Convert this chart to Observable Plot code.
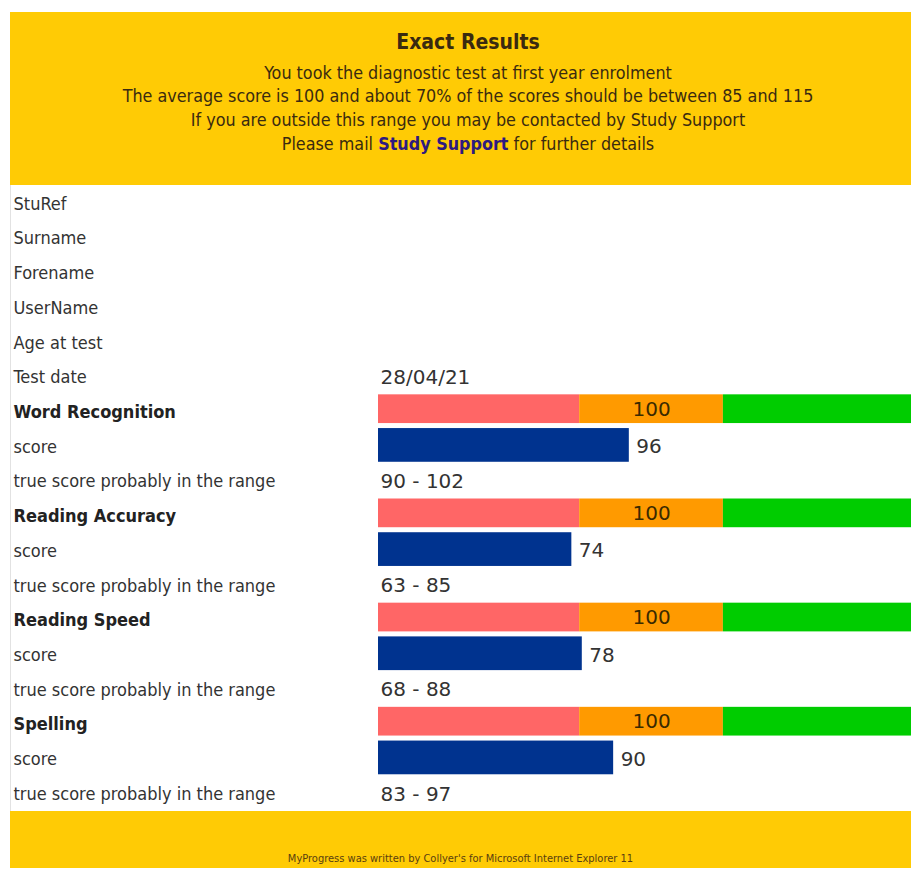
<!DOCTYPE html>
<html>
<head>
<meta charset="utf-8">
<script src="https://cdn.jsdelivr.net/npm/d3@7"></script>
<script src="https://cdn.jsdelivr.net/npm/@observablehq/plot@0.6"></script>
<style>
  html, body { margin: 0; padding: 0; background: #fff; }
  #page { position: relative; width: 911px; height: 873px; overflow: hidden; font-family: "DejaVu Sans Condensed", "DejaVu Sans", sans-serif; color: #333; }
  #header { position: absolute; left: 10px; top: 12px; width: 901px; height: 173px; background: #FFCB05; text-align: center; overflow: visible; }
  #header .t { position: absolute; left: 0; width: 916px; transform: translateY(-50%); font-size: 17.8px; color: #3a2a10; white-space: nowrap; }
  #header .title { font-size: 21px; font-weight: bold; }
  #header .link { color: #2e1a80; font-weight: bold; }
  #chart { position: absolute; left: 0; top: 185px; width: 911px; }
  #leftline { position: absolute; left: 10px; top: 185px; width: 1px; height: 626px; background: #e2e2e2; }
  #footer { position: absolute; left: 10px; top: 811px; width: 901px; height: 57px; background: #FFCB05; }
  #footer .f { position: absolute; left: 0; width: 100%; top: 47px; transform: translateY(-50%); text-align: center; font-size: 11px; color: #5a4010; }
</style>
</head>
<body>
<div id="page">
  <div id="header">
    <div class="t title" style="top:30px">Exact Results</div>
    <div class="t" style="top:60px">You took the diagnostic test at first year enrolment</div>
    <div class="t" style="top:83px">The average score is 100 and about 70% of the scores should be between 85 and 115</div>
    <div class="t" style="top:107px">If you are outside this range you may be contacted by Study Support</div>
    <div class="t" style="top:131px">Please mail <span class="link">Study Support</span> for further details</div>
  </div>
  <div id="leftline"></div>
  <div id="chart"></div>
  <div id="footer"><div class="f">MyProgress was written by Collyer's for Microsoft Internet Explorer 11</div></div>
</div>
<script>
// ---- data ----
const infoLabels = ["StuRef", "Surname", "Forename", "UserName", "Age at test", "Test date"];
const infoValues = ["", "", "", "", "", "28/04/21"];
const tests = ["Word Recognition", "Reading Accuracy", "Reading Speed", "Spelling"];
const scores = [96, 74, 78, 90];
const rangeLow = [90, 63, 68, 83];
const rangeHigh = [102, 85, 88, 97];
const averageScore = 100;
const bandNames = ["low", "average", "high"];
const bandStart = [0, 77, 132];
const bandEnd = [77, 132, 204];
const bandColors = ["#FF6666", "#FF9A00", "#00CC00"];
const scoreLabel = "score";
const rangeLabel = "true score probably in the range";

// ---- build rows ----
const rows = [];
infoLabels.forEach((l, i) => rows.push({key: "info" + i, label: l, bold: false, value: infoValues[i]}));
tests.forEach((t, i) => {
  rows.push({key: t + "|band", label: t, bold: true, value: ""});
  rows.push({key: t + "|score", label: scoreLabel, bold: false, value: ""});
  rows.push({key: t + "|range", label: rangeLabel, bold: false, value: rangeLow[i] + " - " + rangeHigh[i]});
});

const bands = [];
tests.forEach(t => bandNames.forEach((b, j) => bands.push({key: t + "|band", band: b, x1: bandStart[j], x2: bandEnd[j], color: bandColors[j]})));
const avgLabels = tests.map(t => ({key: t + "|band", x: (bandStart[1] + bandEnd[1]) / 2, text: String(averageScore)}));
const scoreRows = tests.map((t, i) => ({key: t + "|score", x: scores[i]}));

const labelFont = "DejaVu Sans Condensed, DejaVu Sans, sans-serif";
const valueFont = "DejaVu Sans, sans-serif";

const chart = Plot.plot({
  width: 911,
  height: 626,
  marginLeft: 378,
  marginRight: 0,
  marginTop: 1,
  marginBottom: 0,
  x: {domain: [0, 204], axis: null},
  y: {type: "band", domain: rows.map(r => r.key), padding: 0, round: false, axis: null},
  style: {background: "transparent", overflow: "visible"},
  marks: [
    Plot.rectX(bands, {x1: "x1", x2: "x2", y: "key", fill: "color", insetTop: 0, insetBottom: 6}),
    Plot.rectX(scoreRows, {x1: 0, x2: "x", y: "key", fill: "#00338F", insetTop: -1, insetBottom: 2}),
    Plot.text(avgLabels, {x: "x", y: "key", text: "text", dy: -3, fontSize: 20, fontFamily: valueFont, fill: "#3a2a00"}),
    Plot.text(scoreRows, {x: "x", y: "key", text: d => String(d.x), textAnchor: "start", dx: 7, fontSize: 20, fontFamily: valueFont, fill: "#333"}),
    Plot.text(rows.filter(r => r.value), {x: 0, y: "key", text: "value", textAnchor: "start", dx: 2, fontSize: 20, fontFamily: valueFont, fill: "#333"}),
    Plot.text(rows.filter(r => !r.bold), {frameAnchor: "left", y: "key", text: "label", textAnchor: "start", dx: -365, fontSize: 18, fontFamily: labelFont, fill: "#333"}),
    Plot.text(rows.filter(r => r.bold), {frameAnchor: "left", y: "key", text: "label", textAnchor: "start", dx: -365, fontSize: 18, fontWeight: "bold", fontFamily: labelFont, fill: "#222"})
  ]
});
document.getElementById("chart").appendChild(chart);
</script>
</body>
</html>
